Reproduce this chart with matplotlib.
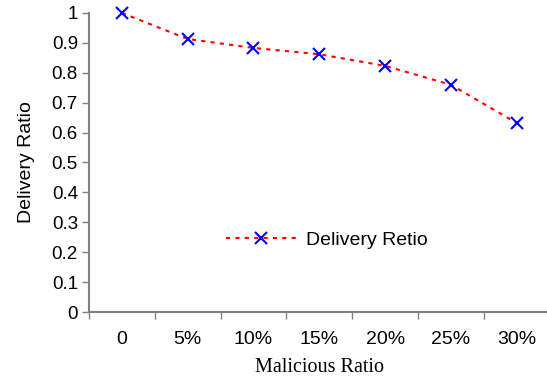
import numpy as np
import matplotlib.pyplot as plt

# data
categories = ["0", "5%", "10%", "15%", "20%", "25%", "30%"]
delivery = [1.0, 0.913, 0.883, 0.862, 0.823, 0.760, 0.632]
yticks = [0, 0.1, 0.2, 0.3, 0.4, 0.5, 0.6, 0.7, 0.8, 0.9, 1]
ytick_labels = ["0", "0.1", "0.2", "0.3", "0.4", "0.5", "0.6", "0.7", "0.8", "0.9", "1"]

fig = plt.figure(figsize=(5.47, 3.81), dpi=100)
ax = fig.add_axes([0.1627, 0.181, 0.842, 0.785])

x = np.arange(len(categories))
ax.plot(x, delivery, color="red", linestyle=(0, (2, 2.5)), linewidth=1.5,
        marker="x", markersize=9, markeredgewidth=1.5,
        markeredgecolor="blue", markerfacecolor="blue",
        label="Delivery Retio", clip_on=False)

ax.set_xlim(-0.5, len(categories) - 0.5)
ax.set_ylim(0, 1)

ax.set_yticks(yticks)
ax.set_yticklabels(ytick_labels, fontname="Liberation Sans", fontsize=13.5)
ax.set_xticks(x)
ax.set_xticklabels(categories, fontname="Liberation Sans", fontsize=14)
ax.set_xticks(np.arange(len(categories)) - 0.5, minor=True)
ax.tick_params(axis="x", which="major", length=0, pad=14)
ax.tick_params(axis="x", which="minor", length=5, color="#808080", width=1)
ax.tick_params(axis="y", length=5, color="#808080", width=1, pad=3)

for side in ["top", "right"]:
    ax.spines[side].set_visible(False)
for side in ["left", "bottom"]:
    ax.spines[side].set_color("#808080")
    ax.spines[side].set_linewidth(1.5)

ax.set_ylabel("Delivery Ratio", fontname="Liberation Sans", fontsize=14, labelpad=12)
ax.set_xlabel("Malicious Ratio", fontname="Liberation Serif", fontsize=14.5, labelpad=7)

ax.legend(loc="center", bbox_to_anchor=(0.516, 0.241), frameon=False,
          prop={"family": "Liberation Sans", "size": 14},
          handlelength=3.6, handletextpad=0.5)

fig.savefig("out.png", dpi=100)
